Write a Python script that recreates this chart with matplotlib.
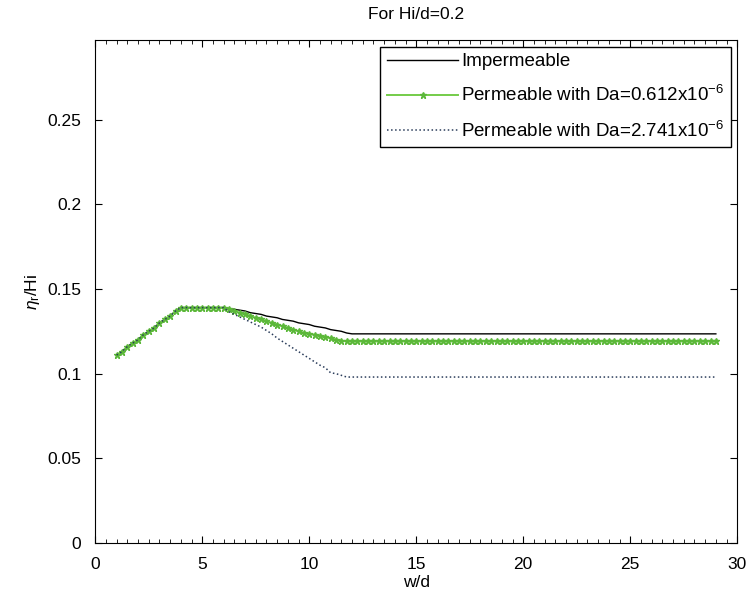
import numpy as np
import matplotlib.pyplot as plt
from matplotlib.ticker import MultipleLocator, FormatStrFormatter

plt.rcParams['font.family'] = ['Liberation Sans', 'DejaVu Sans']
plt.rcParams['mathtext.fontset'] = 'custom'
plt.rcParams['mathtext.rm'] = 'Liberation Sans'
plt.rcParams['mathtext.it'] = 'Liberation Sans:italic'

# w/d from 1 to 29 in steps of 0.25 (113 points)
wd = np.arange(1.0, 29.001, 0.25)

rise = [0.111, 0.113, 0.116, 0.118, 0.120, 0.123, 0.125, 0.127, 0.130, 0.132,
        0.134, 0.137, 0.139]
plateau = [0.139] * 8

impermeable = rise + plateau + [
    0.1385, 0.138, 0.1375, 0.137, 0.136, 0.1355, 0.135, 0.134, 0.1335, 0.133,
    0.132, 0.1315, 0.131, 0.130, 0.1295, 0.129, 0.128, 0.1275, 0.127, 0.126,
    0.1255, 0.125, 0.124, 0.1235] + [0.1235] * 68

perm_0612 = rise + plateau + [
    0.138, 0.137, 0.136, 0.135, 0.134, 0.133, 0.132, 0.131, 0.130, 0.129,
    0.128, 0.127, 0.126, 0.125, 0.124, 0.1235, 0.123, 0.122, 0.1215, 0.121,
    0.120, 0.1195, 0.119] + [0.119] * 69

perm_2741 = rise + plateau + [
    0.1365, 0.135, 0.1335, 0.132, 0.1305, 0.129, 0.1275, 0.1255, 0.1235, 0.121,
    0.119, 0.117, 0.115, 0.113, 0.111, 0.109, 0.107, 0.105, 0.1035, 0.1005,
    0.100, 0.099, 0.098] + [0.098] * 69

yticks = [0, 0.05, 0.1, 0.15, 0.2, 0.25]

fig = plt.figure(figsize=(7.5, 5.98), dpi=100)
ax = fig.add_axes([0.127, 0.092, 0.856, 0.841])

ax.plot(wd, impermeable, color='black', lw=1, label='Impermeable')
ax.plot(wd, perm_0612, color='#74cc4a', lw=1.4, marker='*', ms=5,
        mfc='#5cb83a', mec='#5cb83a', label=r'Permeable with Da=0.612x10$^{-6}$')
ax.plot(wd, perm_2741, color='#2a3c5a', lw=1.1, ls=':',
        label=r'Permeable with Da=2.741x10$^{-6}$')

ax.set_xlim(0, 30)
ax.set_ylim(0, 0.297)
ax.xaxis.set_major_locator(MultipleLocator(5))
ax.xaxis.set_minor_locator(MultipleLocator(0.5))
ax.set_yticks(yticks)
ax.yaxis.set_major_formatter(FormatStrFormatter('%g'))
ax.tick_params(which='both', direction='in', top=True, right=True, labelsize=12.5)
ax.tick_params(which='major', length=5)
ax.tick_params(which='minor', length=3)
ax.tick_params(axis='y', pad=10)
ax.tick_params(axis='x', pad=10)

ax.set_xlabel('w/d', fontsize=12.5, labelpad=2)
ax.set_ylabel(r'$\eta_\mathrm{r}$/Hi', fontsize=12.5, labelpad=4)
ax.set_title('For Hi/d=0.2', fontsize=12.5, pad=15)

leg = ax.legend(loc='upper right', fontsize=13.5, fancybox=False,
                edgecolor='black', framealpha=1, handlelength=3.8,
                handletextpad=0.15, borderaxespad=0.35, labelspacing=0.8,
                borderpad=0.35)
leg.get_frame().set_linewidth(1)

fig.savefig('out.png', dpi=100)
